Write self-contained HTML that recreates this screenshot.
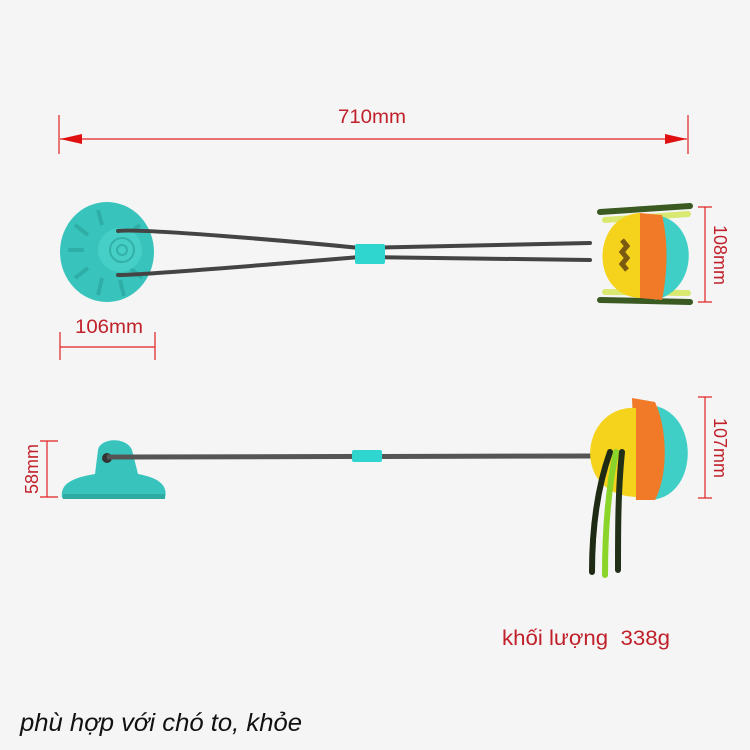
<!DOCTYPE html>
<html><head><meta charset="utf-8"><style>
html,body{margin:0;padding:0;background:#f5f5f5;}
svg{display:block}
</style></head><body>
<svg width="750" height="750" viewBox="0 0 750 750" xmlns="http://www.w3.org/2000/svg">
<rect width="750" height="750" fill="#f5f5f5"/>
<!-- 710mm -->
<g stroke="#e02020" stroke-width="1.2">
<line x1="59" y1="115" x2="59" y2="154"/>
<line x1="688" y1="115" x2="688" y2="154"/>
<line x1="60" y1="139" x2="687" y2="139"/>
</g>
<polygon points="60,139 82,134 82,144" fill="#e01010"/>
<polygon points="687,139 665,134 665,144" fill="#e01010"/>
<text x="338" y="123" textLength="68" lengthAdjust="spacingAndGlyphs" font-family="Liberation Sans Narrow, Liberation Sans, sans-serif" font-size="19" fill="#c0202a">710mm</text>

<!-- top suction disc -->
<ellipse cx="107" cy="252" rx="47" ry="50" fill="#38c4bc"/>
<g stroke="#2aa69f" stroke-width="4" opacity="0.7">
<line x1="75" y1="225" x2="88" y2="235"/><line x1="68" y1="250" x2="84" y2="250"/>
<line x1="75" y1="278" x2="88" y2="268"/><line x1="98" y1="295" x2="102" y2="278"/>
<line x1="98" y1="210" x2="102" y2="225"/><line x1="140" y1="225" x2="128" y2="234"/>
<line x1="142" y1="278" x2="130" y2="268"/><line x1="124" y1="296" x2="120" y2="280"/>
</g>
<circle cx="120" cy="250" r="22" fill="#45cfc6"/>
<circle cx="122" cy="250" r="12" fill="none" stroke="#33b0a8" stroke-width="2"/>
<circle cx="122" cy="250" r="5" fill="none" stroke="#33b0a8" stroke-width="2"/>
<!-- ropes top -->
<g fill="none" stroke="#444" stroke-width="4" stroke-linecap="round">
<path d="M118,231 C140,228 300,242 360,248 L590,243"/>
<path d="M118,275 C140,275 300,262 360,257 L590,260"/>
</g>
<rect x="355" y="244" width="30" height="20" rx="2" fill="#2fd6cf"/>
<!-- top ball -->
<g stroke-width="6" stroke-linecap="round">
<path d="M600,212 L690,206" stroke="#3a5a22"/><path d="M605,220 L688,214" stroke="#d9e870"/>
<path d="M600,300 L690,302" stroke="#3a5a22"/><path d="M605,292 L688,293" stroke="#d9e870"/>
</g>
<path d="M655,215 C700,220 700,290 655,300 Z" fill="#3fcfc6"/>
<path d="M640,213 L662,215 C668,240 668,270 662,300 L640,298 Z" fill="#f07a28"/>
<path d="M640,213 C592,215 588,295 640,298 Z" fill="#f5d21c"/>
<path d="M622,240 l5,6 l-5,6 l5,6 l-5,6 l5,6" stroke="#7a5a10" stroke-width="5" fill="none"/>
<!-- 108mm -->
<g stroke="#e02020" stroke-width="1.2">
<line x1="705" y1="207" x2="705" y2="302"/><line x1="698" y1="207" x2="712" y2="207"/><line x1="698" y1="302" x2="712" y2="302"/>
</g>
<text transform="translate(714,255) rotate(90)" font-family="Liberation Sans Narrow, Liberation Sans, sans-serif" font-size="18" fill="#c0202a" text-anchor="middle">108mm</text>
<!-- 106mm -->
<g stroke="#e02020" stroke-width="1.2">
<line x1="60" y1="332" x2="60" y2="360"/><line x1="155" y1="332" x2="155" y2="360"/><line x1="60" y1="347" x2="155" y2="347"/>
</g>
<text x="75" y="333" textLength="68" lengthAdjust="spacingAndGlyphs" font-family="Liberation Sans Narrow, Liberation Sans, sans-serif" font-size="19" fill="#c0202a">106mm</text>

<!-- bottom suction -->
<path d="M62,498 C60,485 70,478 95,474 L98,450 C100,438 126,436 132,450 L138,474 C160,478 168,486 165,498 Z" fill="#38c4bc"/>
<rect x="63" y="494" width="102" height="5" fill="#2faaa3"/>
<circle cx="107" cy="458" r="5" fill="#333"/>
<line x1="107" y1="457" x2="595" y2="456" stroke="#555" stroke-width="5"/>
<rect x="352" y="450" width="30" height="12" rx="2" fill="#2fd6cf"/>
<!-- 58mm -->
<g stroke="#e02020" stroke-width="1.2">
<line x1="47" y1="441" x2="47" y2="497"/><line x1="40" y1="441" x2="58" y2="441"/><line x1="40" y1="497" x2="58" y2="497"/>
</g>
<text transform="translate(38,469) rotate(-90)" font-family="Liberation Sans Narrow, Liberation Sans, sans-serif" font-size="18" fill="#c0202a" text-anchor="middle">58mm</text>
<!-- bottom ball -->
<path d="M650,405 C700,410 700,495 652,500 Z" fill="#3fcfc6"/>
<path d="M632,398 L655,402 C668,430 668,475 655,500 L636,500 Z" fill="#f07a28"/>
<path d="M636,408 C580,405 570,495 636,497 Z" fill="#f5d21c"/>
<g stroke-width="6" stroke-linecap="round" fill="none">
<path d="M610,452 C600,480 592,520 592,572" stroke="#1e2a14"/>
<path d="M616,452 C608,490 605,530 605,575" stroke="#8bd42a"/>
<path d="M622,452 C618,490 618,530 618,570" stroke="#223018"/>
</g>
<!-- 107mm -->
<g stroke="#e02020" stroke-width="1.2">
<line x1="705" y1="397" x2="705" y2="498"/><line x1="698" y1="397" x2="712" y2="397"/><line x1="698" y1="498" x2="712" y2="498"/>
</g>
<text transform="translate(714,448) rotate(90)" font-family="Liberation Sans Narrow, Liberation Sans, sans-serif" font-size="18" fill="#c0202a" text-anchor="middle">107mm</text>

<text x="502" y="645" textLength="168" lengthAdjust="spacingAndGlyphs" font-family="Liberation Sans Narrow, Liberation Sans, sans-serif" font-size="21" fill="#c0202a" xml:space="preserve">khối lượng  338g</text>
<text x="20" y="731" textLength="282" lengthAdjust="spacingAndGlyphs" font-family="Liberation Sans Narrow, Liberation Sans, sans-serif" font-style="italic" font-size="25" fill="#111">phù hợp với chó to, khỏe</text>
</svg>
</body></html>
